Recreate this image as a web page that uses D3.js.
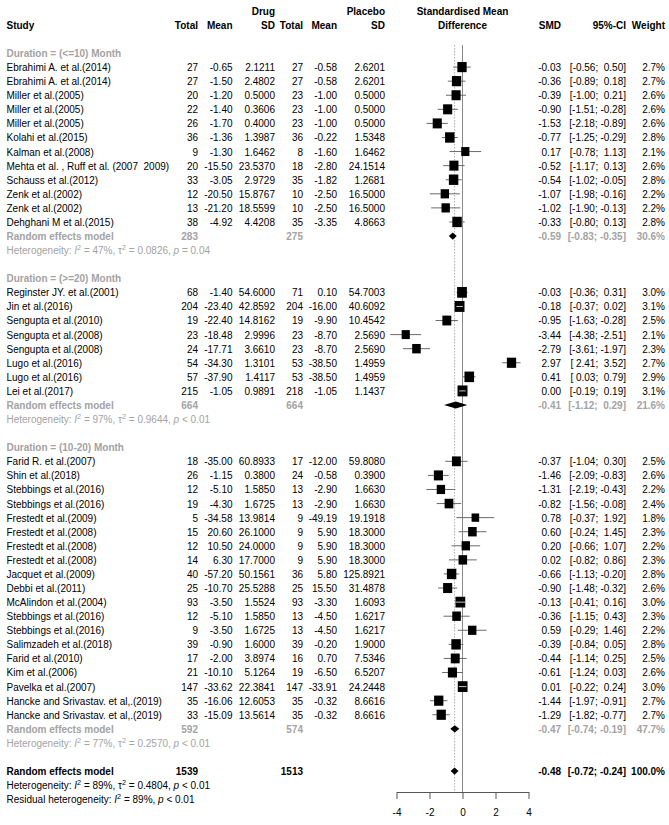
<!DOCTYPE html>
<meta charset="utf-8">
<style>
body { margin: 0; background: #fff; }
svg text { font-family: "Liberation Sans", Arial, sans-serif; font-size: 11px; white-space: pre; }
.bold { font-weight: bold; }
.grey { fill: #a3a3a3; }
</style>
<body>
<script src="https://d3js.org/d3.v7.min.js"></script>
<script>

////* data *////
const groupLabels = ["Duration = (<=10) Month", "Duration = (>=20) Month", "Duration = (10-20) Month"];
const groupSizes = [12, 8, 19];

const studyNames = [
  "Ebrahimi A. et al.(2014)", "Ebrahimi A. et al.(2014)", "Miller et al.(2005)", "Miller et al.(2005)",
  "Miller et al.(2005)", "Kolahi et al.(2015)", "Kalman et al.(2008)", "Mehta et al. , Ruff et al. (2007  2009)",
  "Schauss et al.(2012)", "Zenk et al.(2002)", "Zenk et al.(2002)", "Dehghani M et al.(2015)",
  "Reginster JY. et al.(2001)", "Jin et al.(2016)", "Sengupta et al.(2010)", "Sengupta et al.(2008)",
  "Sengupta et al.(2008)", "Lugo et al.(2016)", "Lugo et al.(2016)", "Lei et al.(2017)",
  "Farid R. et al.(2007)", "Shin et al.(2018)", "Stebbings et al.(2016)", "Stebbings et al.(2016)",
  "Frestedt et al.(2009)", "Frestedt et al.(2008)", "Frestedt et al.(2008)", "Frestedt et al.(2008)",
  "Jacquet et al.(2009)", "Debbi et al.(2011)", "McAlindon et al.(2004)", "Stebbings et al.(2016)",
  "Stebbings et al.(2016)", "Salimzadeh et al.(2018)", "Farid et al.(2010)", "Kim et al.(2006)",
  "Pavelka et al.(2007)", "Hancke and Srivastav. et al,.(2019)", "Hancke and Srivastav. et al,.(2019)"
];
const drugTotal = [27,27,20,22,26,36,9,20,33,12,13,38, 68,204,19,23,24,54,57,215,
  18,26,12,19,5,15,12,14,40,25,93,12,9,39,17,21,147,35,33];
const drugMean = [-0.65,-1.50,-1.20,-1.40,-1.70,-1.36,-1.30,-15.50,-3.05,-20.50,-21.20,-4.92,
  -1.40,-23.40,-22.40,-18.48,-17.71,-34.30,-37.90,-1.05,
  -35.00,-1.15,-5.10,-4.30,-34.58,20.60,10.50,6.30,-57.20,-10.70,-3.50,-5.10,-3.50,-0.90,-2.00,-10.10,-33.62,-16.06,-15.09];
const drugSD = [2.1211,2.4802,0.5000,0.3606,0.4000,1.3987,1.6462,23.5370,2.9729,15.8767,18.5599,4.4208,
  54.6000,42.8592,14.8162,2.9996,3.6610,1.3101,1.4117,0.9891,
  60.8933,0.3800,1.5850,1.6725,13.9814,26.1000,24.0000,17.7000,50.1561,25.5288,1.5524,1.5850,1.6725,1.6000,3.8974,5.1264,22.3841,12.6053,13.5614];
const placeboTotal = [27,27,23,23,23,36,8,18,35,10,10,35, 71,204,19,23,23,53,53,218,
  17,24,13,13,9,9,9,9,36,25,93,13,13,39,16,19,147,35,35];
const placeboMean = [-0.58,-0.58,-1.00,-1.00,-1.00,-0.22,-1.60,-2.80,-1.82,-2.50,-2.50,-3.35,
  0.10,-16.00,-9.90,-8.70,-8.70,-38.50,-38.50,-1.05,
  -12.00,-0.58,-2.90,-2.90,-49.19,5.90,5.90,5.90,5.80,15.50,-3.30,-4.50,-4.50,-0.20,0.70,-6.50,-33.91,-0.32,-0.32];
const placeboSD = [2.6201,2.6201,0.5000,0.5000,0.5000,1.5348,1.6462,24.1514,1.2681,16.5000,16.5000,4.8663,
  54.7003,40.6092,10.4542,2.5690,2.5690,1.4959,1.4959,1.1437,
  59.8080,0.3900,1.6630,1.6630,19.1918,18.3000,18.3000,18.3000,125.8921,31.4878,1.6093,1.6217,1.6217,1.9000,7.5346,6.5207,24.2448,8.6616,8.6616];
const smd = [-0.03,-0.36,-0.39,-0.90,-1.53,-0.77,0.17,-0.52,-0.54,-1.07,-1.02,-0.33,
  -0.03,-0.18,-0.95,-3.44,-2.79,2.97,0.41,0.00,
  -0.37,-1.46,-1.31,-0.82,0.78,0.60,0.20,0.02,-0.66,-0.90,-0.13,-0.36,0.59,-0.39,-0.44,-0.61,0.01,-1.44,-1.29];
const ciLow = [-0.56,-0.89,-1.00,-1.51,-2.18,-1.25,-0.78,-1.17,-1.02,-1.98,-1.90,-0.80,
  -0.36,-0.37,-1.63,-4.38,-3.61,2.41,0.03,-0.19,
  -1.04,-2.09,-2.19,-1.56,-0.37,-0.24,-0.66,-0.82,-1.13,-1.48,-0.41,-1.15,-0.29,-0.84,-1.14,-1.24,-0.22,-1.97,-1.82];
const ciHigh = [0.50,0.18,0.21,-0.28,-0.89,-0.29,1.13,0.13,-0.05,-0.16,-0.13,0.13,
  0.31,0.02,-0.28,-2.51,-1.97,3.52,0.79,0.19,
  0.30,-0.83,-0.43,-0.08,1.92,1.45,1.07,0.86,-0.20,-0.32,0.16,0.43,1.46,0.05,0.25,0.03,0.24,-0.91,-0.77];
const weight = [2.7,2.7,2.6,2.6,2.6,2.8,2.1,2.6,2.8,2.2,2.2,2.8,
  3.0,3.1,2.5,2.1,2.3,2.7,2.9,3.1,
  2.5,2.6,2.2,2.4,1.8,2.3,2.2,2.3,2.8,2.6,3.0,2.3,2.2,2.8,2.5,2.6,3.0,2.7,2.7];

// subgroup random effects models
const groupDrugTotal = [283, 664, 592];
const groupPlaceboTotal = [275, 664, 574];
const groupSmd = [-0.59, -0.41, -0.47];
const groupLow = [-0.83, -1.12, -0.74];
const groupHigh = [-0.35, 0.29, -0.19];
const groupWeight = [30.6, 21.6, 47.7];
const groupI2 = ["47%", "97%", "77%"];
const groupTau2 = ["0.0826", "0.9644", "0.2570"];
const groupP = ["= 0.04", "< 0.01", "< 0.01"];

// overall model
const overallTotals = [1539, 1513];
const overallEst = [-0.48, -0.72, -0.24];   // smd, lower, upper
const overallWeight = 100.0;
const overallHet = ["89%", "0.4804", "< 0.01"];
const residualHet = ["89%", "< 0.01"];

const xTicks = [-4, -2, 0, 2, 4];

////* layout *////
const W = 669, H = 825;
const K = 0.91;                 // glyphs in the picture are a bit narrow
const rowH = 14.08, row0 = 53;
const rowY = i => row0 + i * rowH;
const col = { study: 6.5, eTot: 198, eMean: 232.5, eSD: 275, cTot: 303, cMean: 337, cSD: 385,
              smd: 561, ci: 626, w: 665 };
const grey = "#a3a3a3";

const x = d3.scaleLinear().domain([-4, 4]).range([396.5, 528.5]);

const svg = d3.select("body").append("svg")
  .attr("width", W).attr("height", H)
  .style("display", "block")
  .style("background", "#fff");

const gLines = svg.append("g");
const gMarks = svg.append("g");
const gText = svg.append("g");

function txt(xp, y, s, anchor, cls) {
  return gText.append("text")
    .attr("transform", `translate(${xp},${y}) scale(${K},1)`)
    .attr("text-anchor", anchor || "start")
    .attr("dy", "0.36em")
    .attr("class", cls || null)
    .text(s);
}
const f2 = v => v.toFixed(2);
const f4 = v => v.toFixed(4);
const pad = v => (v < 0 ? "" : " ") + f2(v);
const ciText = (lo, hi) => `[${pad(lo)}; ${pad(hi)}]`;

function hetText(y, label, i2, tau2, p, cls) {
  const t = txt(col.study, y, null, "start", cls);
  t.append("tspan").text(label + ": ");
  t.append("tspan").style("font-style", "italic").text("I");
  t.append("tspan").attr("dy", -4).style("font-size", "8px").text("2");
  t.append("tspan").attr("dy", 4).text(" = " + i2 + ", ");
  if (tau2 !== null) {
    t.append("tspan").text("\u03c4");
    t.append("tspan").attr("dy", -4).style("font-size", "8px").text("2");
    t.append("tspan").attr("dy", 4).text(" = " + tau2 + ", ");
  }
  t.append("tspan").style("font-style", "italic").text("p");
  t.append("tspan").text(" " + p);
}

function diamond(y, est, lo, hi) {
  gMarks.append("path")
    .attr("d", `M${x(lo)},${y}L${x(est)},${y - 3.6}L${x(hi)},${y}L${x(est)},${y + 3.6}Z`)
    .attr("fill", "#000");
}

////* header *////
txt(col.eSD, rowY(-3), "Drug", "end", "bold");
txt(col.cSD, rowY(-3), "Placebo", "end", "bold");
txt(x(0), rowY(-3), "Standardised Mean", "middle", "bold");
txt(col.study, rowY(-2), "Study", "start", "bold");
[["Total", col.eTot], ["Mean", col.eMean], ["SD", col.eSD], ["Total", col.cTot], ["Mean", col.cMean],
 ["SD", col.cSD], ["SMD", col.smd], ["95%-CI", col.ci], ["Weight", col.w]]
  .forEach(h => txt(h[1], rowY(-2), h[0], "end", "bold"));
txt(x(0), rowY(-2), "Difference", "middle", "bold");

////* study rows, by subgroup *////
let r = 0, s = 0;
groupLabels.forEach((lab, g) => {
  txt(col.study, rowY(r), lab, "start", "bold grey");
  r++;
  for (let k = 0; k < groupSizes[g]; k++, s++, r++) {
    const y = rowY(r);
    txt(col.study, y, studyNames[s]);
    txt(col.eTot, y, String(drugTotal[s]), "end");
    txt(col.eMean, y, f2(drugMean[s]), "end");
    txt(col.eSD, y, f4(drugSD[s]), "end");
    txt(col.cTot, y, String(placeboTotal[s]), "end");
    txt(col.cMean, y, f2(placeboMean[s]), "end");
    txt(col.cSD, y, f4(placeboSD[s]), "end");
    txt(col.smd, y, f2(smd[s]), "end");
    txt(col.ci, y, ciText(ciLow[s], ciHigh[s]), "end");
    txt(col.w, y, weight[s].toFixed(1) + "%", "end");

    const h = 6.2 * Math.sqrt(weight[s]), wd = h * K, cx = x(smd[s]);
    gMarks.append("line")
      .attr("x1", x(ciLow[s])).attr("x2", x(ciHigh[s]))
      .attr("y1", y).attr("y2", y)
      .attr("stroke", "#6a6a6a").attr("stroke-width", 1);
    gMarks.append("rect")
      .attr("x", cx - wd / 2).attr("y", y - h / 2)
      .attr("width", wd).attr("height", h)
      .attr("fill", "#000");
    if (x(ciLow[s]) > cx - wd / 2 && x(ciHigh[s]) < cx + wd / 2) {
      gMarks.append("line")
        .attr("x1", x(ciLow[s])).attr("x2", x(ciHigh[s]))
        .attr("y1", y).attr("y2", y)
        .attr("stroke", "#fff").attr("stroke-width", 0.8);
    }
  }
  const y = rowY(r);
  txt(col.study, y, "Random effects model", "start", "bold grey");
  txt(col.eTot, y, String(groupDrugTotal[g]), "end", "bold grey");
  txt(col.cTot, y, String(groupPlaceboTotal[g]), "end", "bold grey");
  txt(col.smd, y, f2(groupSmd[g]), "end", "bold grey");
  txt(col.ci, y, ciText(groupLow[g], groupHigh[g]), "end", "bold grey");
  txt(col.w, y, groupWeight[g].toFixed(1) + "%", "end", "bold grey");
  diamond(y, groupSmd[g], groupLow[g], groupHigh[g]);
  r++;
  hetText(rowY(r), "Heterogeneity", groupI2[g], groupTau2[g], groupP[g], "grey");
  r += 2;
});

////* overall *////
const yo = rowY(r);
txt(col.study, yo, "Random effects model", "start", "bold");
txt(col.eTot, yo, String(overallTotals[0]), "end", "bold");
txt(col.cTot, yo, String(overallTotals[1]), "end", "bold");
txt(col.smd, yo, f2(overallEst[0]), "end", "bold");
txt(col.ci, yo, ciText(overallEst[1], overallEst[2]), "end", "bold");
txt(col.w, yo, overallWeight.toFixed(1) + "%", "end", "bold");
diamond(yo, overallEst[0], overallEst[1], overallEst[2]);
hetText(rowY(r + 1), "Heterogeneity", overallHet[0], overallHet[1], overallHet[2]);
hetText(rowY(r + 2), "Residual heterogeneity", residualHet[0], null, residualHet[1]);

////* reference lines and axis *////
const axisY = 792, lineTop = 45;
gLines.append("line")
  .attr("x1", x(0)).attr("x2", x(0)).attr("y1", lineTop).attr("y2", axisY)
  .attr("stroke", "#8a8a8a").attr("stroke-width", 1);
gLines.append("line")
  .attr("x1", x(overallEst[0])).attr("x2", x(overallEst[0])).attr("y1", lineTop).attr("y2", axisY)
  .attr("stroke", "#9a9a9a").attr("stroke-width", 0.8).attr("stroke-dasharray", "1.5,1.5");

const axis = svg.append("g")
  .attr("transform", `translate(0,${axisY})`)
  .call(d3.axisBottom(x).tickValues(xTicks).tickSize(7).tickPadding(9).tickSizeOuter(0)
    .tickFormat(d => String(d)));
axis.selectAll("path, line").attr("stroke", "#555");
axis.selectAll("text")
  .attr("transform", `scale(${K},1)`)
  .style("font-family", "'Liberation Sans', Arial, sans-serif")
  .style("font-size", "11px")
  .attr("fill", "#000");

</script>
</body>
